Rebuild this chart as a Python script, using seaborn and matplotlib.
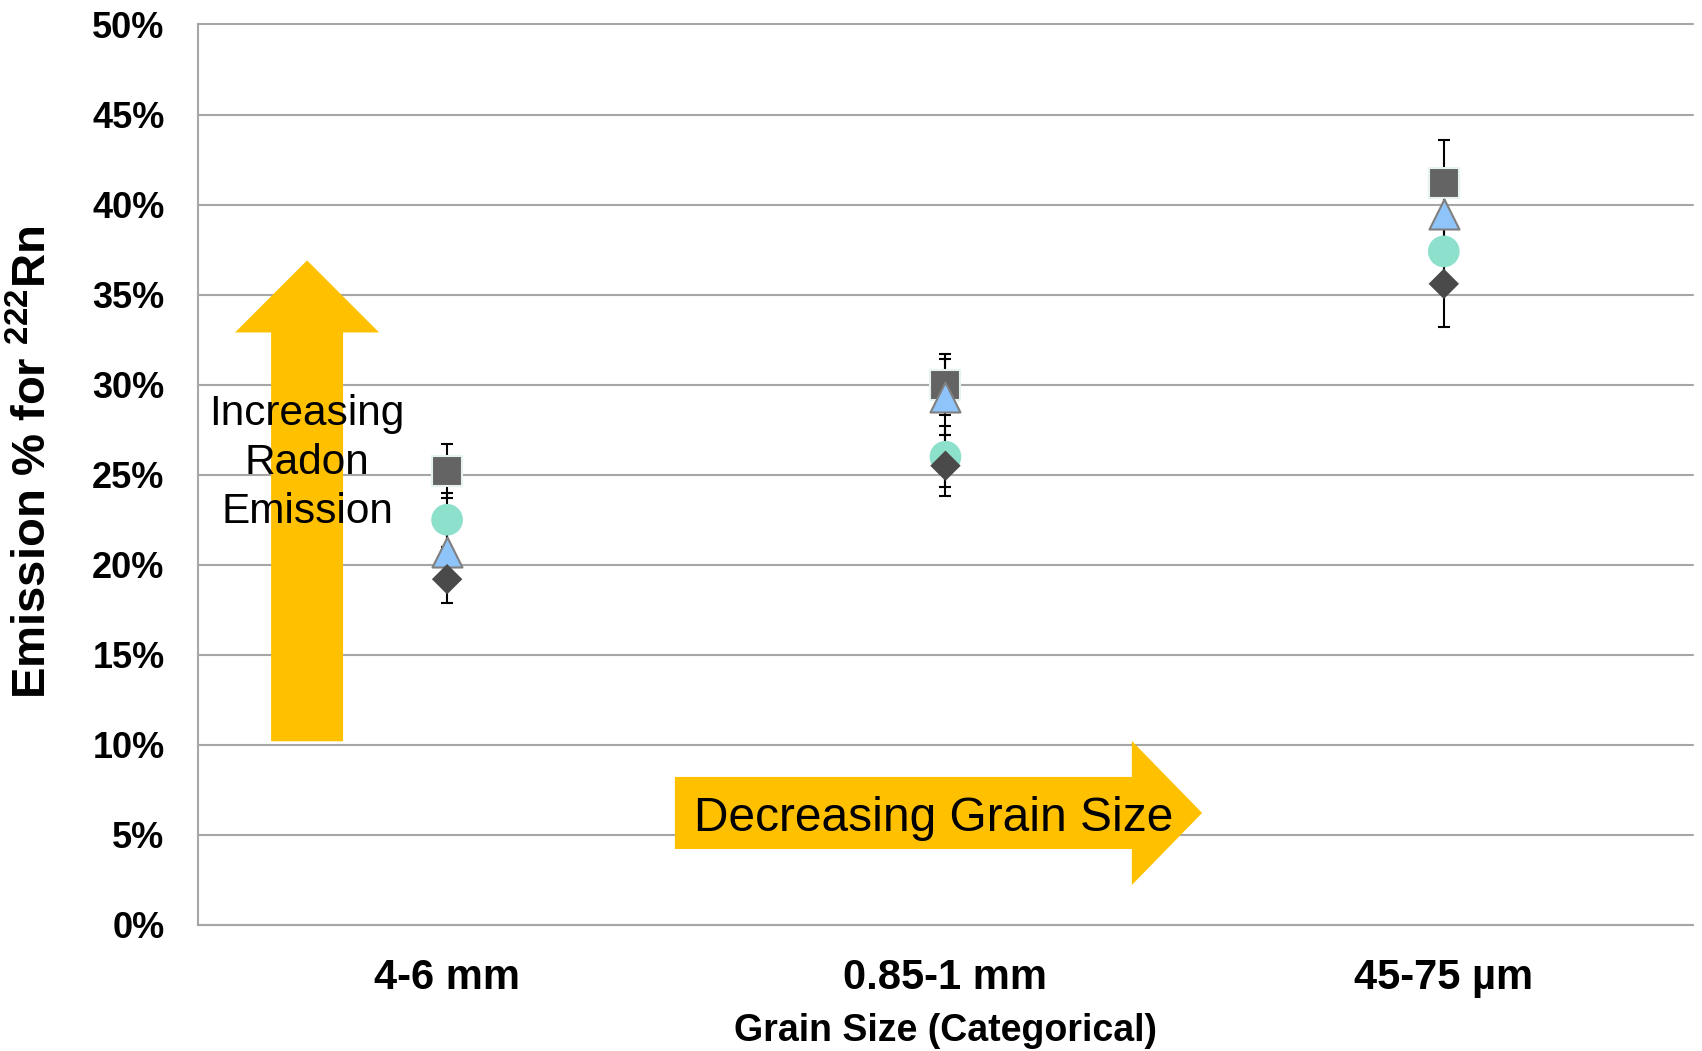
import matplotlib
matplotlib.use("Agg")
import matplotlib.pyplot as plt
import matplotlib.patches as mpatches
from matplotlib.ticker import FuncFormatter
import seaborn as sns
import pandas as pd

# ---------------- data ----------------
categories = ["4-6 mm", "0.85-1 mm", "45-75 µm"]

square_vals = [25.2, 30.0, 41.2]
square_err = [1.5, 1.7, 2.4]
circle_vals = [22.5, 26.0, 37.4]
circle_err = [1.5, 1.7, 1.4]
triangle_vals = [20.7, 29.3, 39.5]
triangle_err = [1.4, 2.1, 1.5]
diamond_vals = [19.2, 25.5, 35.6]
diamond_err = [1.3, 1.7, 2.4]

y_ticks = [0, 5, 10, 15, 20, 25, 30, 35, 40, 45, 50]

# ---------------- style ----------------
sns.set_theme(style="white")
plt.rcParams["font.family"] = ["Liberation Sans", "DejaVu Sans"]
plt.rcParams["font.weight"] = "bold"
plt.rcParams["mathtext.fontset"] = "custom"
plt.rcParams["mathtext.rm"] = "Liberation Sans:bold"
plt.rcParams["mathtext.it"] = "Liberation Sans:bold"
plt.rcParams["mathtext.bf"] = "Liberation Sans:bold"
plt.rcParams["text.color"] = "black"
plt.rcParams["axes.labelcolor"] = "black"
plt.rcParams["xtick.color"] = "black"
plt.rcParams["ytick.color"] = "black"

GRID = "#A6A6A6"
ORANGE = "#FFC000"

fig = plt.figure(figsize=(17.02, 10.51), dpi=100)
ax = fig.add_axes([0.1163, 0.1199, 0.8784, 0.8568])

series = [
    dict(vals=square_vals, err=square_err, marker="s", s=498, color="#646464",
         ec="#E6F2EE", lw=1.5),
    dict(vals=circle_vals, err=circle_err, marker="o", s=520, color="#8CE0CC",
         ec="none", lw=0),
    dict(vals=triangle_vals, err=triangle_err, marker="^", s=467, color="#8FC4FA",
         ec="#7F7F7F", lw=1.5),
    dict(vals=diamond_vals, err=diamond_err, marker="D", s=240, color="#4A4A4A",
         ec="none", lw=0),
]

for i, sd in enumerate(series):
    df = pd.DataFrame({"size": categories, "emission": sd["vals"]})
    sns.scatterplot(data=df, x="size", y="emission", ax=ax, marker=sd["marker"],
                    s=sd["s"], color=sd["color"], edgecolor=sd["ec"],
                    linewidth=sd["lw"], zorder=4 + i, legend=False)

for sd in series:
    ax.errorbar(categories, sd["vals"], yerr=sd["err"], fmt="none",
                ecolor="black", elinewidth=1.5, capsize=4.3, capthick=1.5,
                zorder=3)

# ---------------- axes ----------------
ax.set_xlim(-0.5, 2.5)
ax.set_ylim(0, 50)
ax.set_yticks(y_ticks)
ax.yaxis.set_major_formatter(FuncFormatter(lambda v, p: f"{v:.0f}%"))
ax.yaxis.grid(True, color=GRID, linewidth=1.5, zorder=0.5)
ax.xaxis.grid(False)
ax.set_axisbelow(True)
for gl in ax.get_ygridlines():
    gl.set_clip_on(False)

for side in ["top", "right"]:
    ax.spines[side].set_visible(False)
for side in ["left", "bottom"]:
    ax.spines[side].set_color(GRID)
    ax.spines[side].set_linewidth(1.5)

ax.tick_params(axis="y", length=0, pad=24, labelsize=26, labelcolor="black")
ax.tick_params(axis="x", length=0, pad=24, labelsize=30, labelcolor="black")

ax.set_xlabel("Grain Size (Categorical)", fontsize=27, fontweight="bold",
              color="black")
ax.xaxis.set_label_coords(0.5, -0.098)
ax.set_ylabel(r"Emission % for $^{222}$Rn", fontsize=34, fontweight="bold",
              color="black")
ax.yaxis.label.set_va("center")
ax.yaxis.set_label_coords(-0.110, 0.514)

# ---------------- annotation arrows ----------------
cx, hw, hhw, y0, yb, yt = -0.281, 0.0722, 0.1445, 10.2, 32.9, 36.9
v_arrow = mpatches.Polygon(
    [(cx - hw, y0), (cx + hw, y0), (cx + hw, yb), (cx + hhw, yb), (cx, yt),
     (cx - hhw, yb), (cx - hw, yb)],
    closed=True, facecolor=ORANGE, edgecolor="none", zorder=1)
ax.add_patch(v_arrow)

x0, xb, xt, cy, hh, hhh = 0.457, 1.374, 1.515, 6.22, 2.0, 4.0
h_arrow = mpatches.Polygon(
    [(x0, cy - hh), (xb, cy - hh), (xb, cy - hhh), (xt, cy), (xb, cy + hhh),
     (xb, cy + hh), (x0, cy + hh)],
    closed=True, facecolor=ORANGE, edgecolor="none", zorder=1)
ax.add_patch(h_arrow)

for txt, yy in zip(["Increasing", "Radon", "Emission"], [27.76, 25.04, 22.32]):
    ax.text(-0.281, yy, txt, ha="center", va="baseline", fontsize=30.5,
            fontweight="normal", color="black", zorder=10)

ax.text(0.977, 5.22, "Decreasing Grain Size", ha="center", va="baseline",
        fontsize=34.5, fontweight="normal", color="black", zorder=10)

fig.savefig("out.png", dpi=100)
